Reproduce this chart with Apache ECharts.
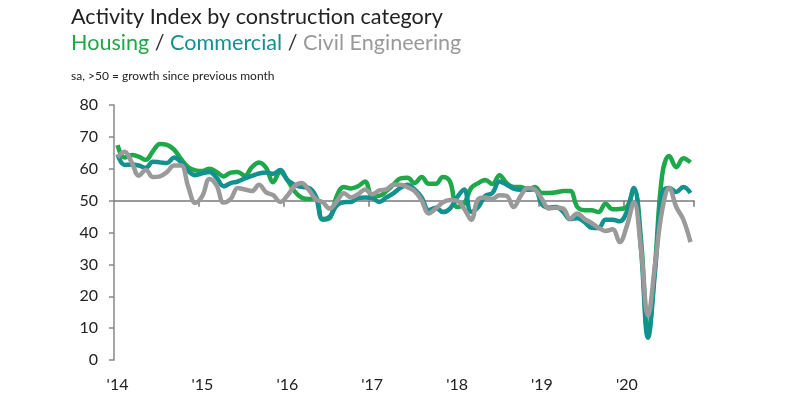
<!DOCTYPE html>
<html lang="en">
<head>
    <meta charset="utf-8">
    <title>Activity Index by construction category</title>
    <script src="https://cdn.jsdelivr.net/npm/echarts@6/dist/echarts.min.js"></script>
    <style>
        html, body { margin: 0; padding: 0; background: #fff; }
        #chart { width: 800px; height: 400px; }
    </style>
</head>
<body>
<div id="chart"></div>
<script>
// monthly readings, Jan 2014 .. Oct 2020
var years = [2014, 2015, 2016, 2017, 2018, 2019, 2020];
var yearLabels = ["'14", "'15", "'16", "'17", "'18", "'19", "'20"];
var monthsInLastYear = 10;

var housing = [
    67.4, 63.5, 64.3, 63.8, 62.8, 65.5, 67.8, 67.5, 66, 63, 60.5, 59.5,
    59.3, 60, 59, 57.6, 58.8, 59, 57.8, 60.5, 62, 60.3, 55.8, 59,
    56.5, 53, 51, 50.5, 51, 44, 44.5, 51.5, 54.3, 53.8, 54.5, 56,
    51.5, 51.5, 53, 55, 57, 57.2, 55.5, 57.4, 55.3, 55.3, 57.4, 56,
    48, 49, 54, 55.5, 56.5, 55.2, 58, 55.5, 54.3, 54.3, 53.5, 54.3,
    52.4, 52.4, 52.6, 53, 53, 48, 47, 47, 46.4, 49, 47.3, 47.4,
    48, 53.8, 38, 8, 30, 58, 64, 60.5, 63.3, 62
];
var commercial = [
    64.5, 61.2, 61.3, 61, 60.3, 62.2, 62, 61.8, 63.5, 62, 59.3, 58,
    58.6, 59, 57.2, 54.5, 55.5, 56, 57, 57.8, 58.5, 58.8, 58.4, 59.6,
    56.5, 55, 54.3, 54, 51.5, 44.2, 45, 48.5, 49.5, 49.6, 50.8, 51,
    50.8, 49.6, 51, 52.3, 54, 55, 53.5, 51, 47, 47.8, 46.4, 47.5,
    51, 53.5, 46.5, 48, 51.5, 52.4, 56, 55, 53.8, 53.4, 53.4, 53.5,
    48.8, 47.8, 48, 46.5, 44.2, 44.5, 43.3, 41.5, 41.4, 44, 44, 43.5,
    46.5, 54, 35, 7, 28, 52.5, 54, 52.7, 54.3, 52.4
];
var civil = [
    63.6, 65.3, 62, 57.8, 59.6, 57.4, 57.6, 59, 61, 61, 54.3, 49.3,
    51.5, 56.8, 54.8, 49.4, 50.5, 54, 53.5, 53, 55, 52.6, 51.7, 49.6,
    51.5, 54.5, 55.5, 53.5, 50.5, 49.5, 47.5, 49.8, 52.3, 51, 52, 53.5,
    52, 53.2, 53.5, 55, 55, 54.2, 53, 50, 46, 47.5, 49.5, 50.2,
    50, 47.5, 44, 50.5, 51, 50.6, 51.7, 51.5, 48, 51.5, 54, 53.5,
    50.5, 47.5, 47.8, 47.5, 44.3, 46, 44.3, 43, 41.5, 40.5, 41, 37,
    42, 49.5, 35, 14, 30, 47, 54, 48, 44, 37
];

var categories = [];
years.forEach(function (y, k) {
    var n = (k === years.length - 1) ? monthsInLastYear : 12;
    for (var m = 1; m <= n; m++) categories.push(y + '-' + m);
});

var green = '#1fa84a', teal = '#14918f', grey = '#9a9a9a';
var font = 'Lato';

echarts.init(document.getElementById('chart')).setOption({
    animation: false,
    title: [
        {
            text: 'Activity Index by construction category',
            left: 66, top: 1,
            textStyle: { fontFamily: font, fontSize: 21.6, fontWeight: 'normal', color: '#222' }
        },
        {
            text: '{g|Housing} {s|/} {t|Commercial} {s|/} {c|Civil Engineering}',
            left: 66, top: 27,
            textStyle: {
                fontFamily: font, fontSize: 21.6, fontWeight: 'normal',
                rich: {
                    g: { color: green, fontFamily: font, fontSize: 21.6 },
                    t: { color: teal, fontFamily: font, fontSize: 21.6 },
                    c: { color: grey, fontFamily: font, fontSize: 21.6 },
                    s: { color: '#333', fontFamily: font, fontSize: 21.6 }
                }
            }
        },
        {
            text: 'sa, >50 = growth since previous month',
            left: 66, top: 65,
            textStyle: { fontFamily: font, fontSize: 12, fontWeight: 'normal', color: '#222' }
        }
    ],
    grid: {
        left: 114,
        right: 106,
        top: 105,
        bottom: 40
    },
    xAxis: [
        {
            type: 'category',
            data: categories,
            boundaryGap: true,
            position: 'bottom',
            axisLine: { show: false, onZero: false },
            axisTick: { show: false },
            axisLabel: {
                interval: function (i) { return i % 12 === 0; },
                formatter: function (v, i) { return yearLabels[Math.floor(i / 12)]; },
                fontFamily: font, fontSize: 16, color: '#222', margin: 17
            }
        },
        {
            // axis line drawn on the 50 mark
            type: 'category',
            data: categories,
            boundaryGap: true,
            position: 'bottom',
            axisLine: { show: true, onZero: true, onZeroAxisIndex: 1, lineStyle: { color: '#7a7a7a', width: 1.5 } },
            axisTick: {
                show: true, length: 6,
                interval: function (i) { return i > 0 && i % 12 === 0; },
                lineStyle: { color: '#7a7a7a', width: 1.5 }
            },
            axisLabel: { show: false }
        }
    ],
    yAxis: [
        {
            type: 'value',
            min: 0,
            max: 80,
            interval: 10,
            axisLine: { show: true, lineStyle: { color: '#888', width: 1.5 } },
            axisTick: { show: true, length: 5, lineStyle: { color: '#888', width: 1.5 } },
            axisLabel: { fontFamily: font, fontSize: 16, color: '#222', margin: 16 },
            splitLine: { show: false }
        },
        {
            type: 'value',
            min: -50,
            max: 30,
            show: false
        }
    ],
    series: [
        {
            name: 'Housing',
            type: 'line',
            data: housing,
            smooth: 0.4,
            symbol: 'none',
            lineStyle: { color: green, width: 4.5 },
            itemStyle: { color: green }
        },
        {
            name: 'Commercial',
            type: 'line',
            data: commercial,
            smooth: 0.4,
            symbol: 'none',
            lineStyle: { color: teal, width: 4.5 },
            itemStyle: { color: teal }
        },
        {
            name: 'Civil Engineering',
            type: 'line',
            data: civil,
            smooth: 0.4,
            symbol: 'none',
            lineStyle: { color: grey, width: 4.5 },
            itemStyle: { color: grey }
        }
    ]
});
</script>
</body>
</html>
